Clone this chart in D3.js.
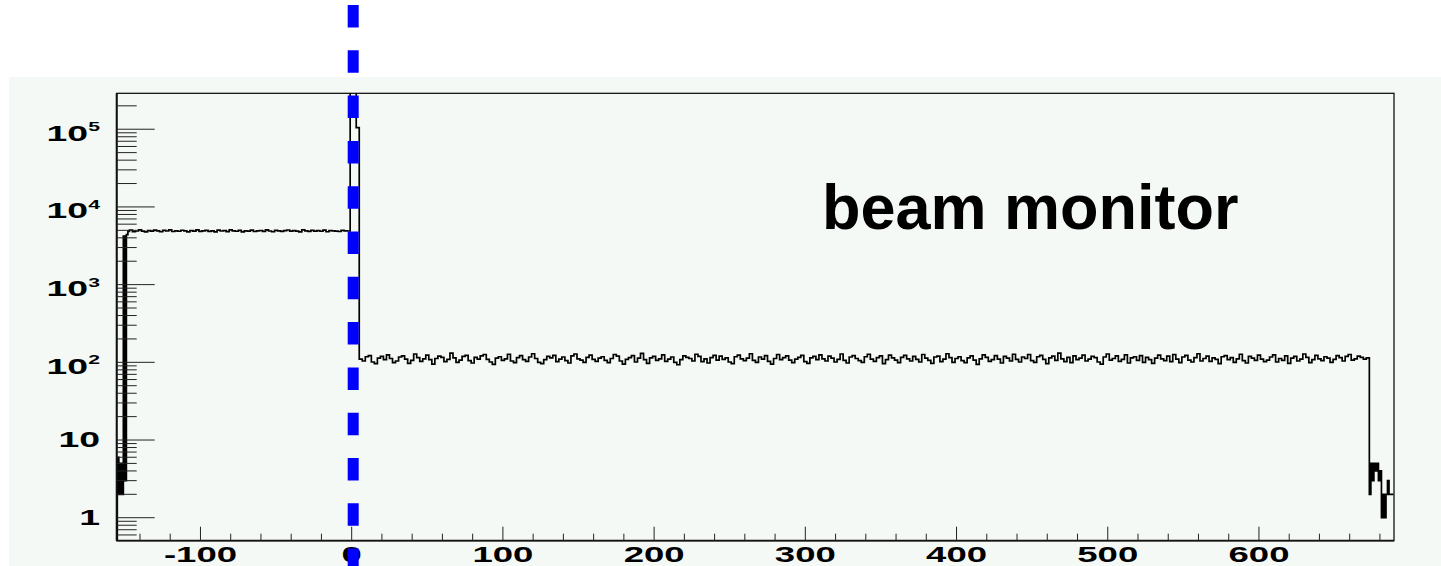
<!DOCTYPE html>
<html>
<head>
<meta charset="utf-8">
<script src="https://cdn.jsdelivr.net/npm/d3@7"></script>
<style>
  html, body { margin: 0; padding: 0; background: #ffffff; }
  svg { display: block; }
  text { font-family: "Liberation Sans", Arial, Helvetica, sans-serif; font-weight: bold; fill: #000; }
</style>
</head>
<body>
<svg id="chart" width="1441" height="566"></svg>
<script>
// ---- Histogram contents (counts per bin, time in ns) ----
// Leading edge, 1 ns bins starting at -155
const edgeStart = -155, edgeWidth = 1;
const edgeCounts = [6, 2, 5, 2, 4200, 3, 4400, 4850];

// Pre-trigger plateau, 2 ns bins starting at -147
const preStart = -147, preWidth = 2;
const preCounts = [
  5050,4820,4900,5080,4880,4760,4950,4870,5030,4910,4790,4980,4900,5070,4830,4920,4860,5010,4930,4780,
  4950,4890,5060,4840,4920,4990,4850,4930,4770,5020,4900,4960,4820,5080,4910,4860,4990,4780,4930,4880,
  5040,4830,4910,4970,4850,5060,4900,4790,5000,4920,4840,4940,5050,4870,4960,4890,4780,5070,4920,4850,
  4990,4880,4940,4860,5030,4790,4950,4910,4880,4830,4990,4930,4900
];

// Prompt peak, 2 ns bins starting at -1
const peakStart = -1, peakWidth = 2;
const peakCounts = [620000, 380000, 105000];

// Post-peak plateau, 2 ns bins starting at 5
const postStart = 5, postWidth = 2;
const postCounts = [
  110,104,118,122,101,96,113,119,108,125,112,99,104,117,121,110,97,106,128,115,
  103,111,124,108,95,112,120,116,102,109,131,114,100,107,119,123,105,98,116,110,
  121,126,109,101,94,113,118,106,111,127,104,99,115,122,108,103,117,129,112,100,
  96,108,119,114,123,102,110,117,105,98,121,128,111,107,100,116,124,109,103,113,
  118,106,99,112,126,120,104,95,109,115,122,101,113,130,108,97,114,119,106,111,
  125,103,110,117,100,93,108,121,116,112,104,127,119,102,111,98,115,123,107,120,
  109,114,101,96,118,124,111,105,113,129,106,100,117,110,122,103,95,112,126,108,
  115,121,107,99,110,116,123,102,97,114,119,108,125,111,104,120,113,101,109,128,
  106,98,117,122,112,105,100,118,127,110,103,115,121,96,108,124,114,107,99,116,
  123,111,104,119,109,101,126,113,106,97,117,120,102,110,129,115,100,112,118,105,
  99,114,121,107,94,111,125,116,103,108,122,110,98,119,113,104,127,109,101,117,
  112,126,105,100,118,123,109,96,114,120,106,131,111,102,116,99,121,108,113,124,
  104,110,119,115,101,95,117,128,107,112,121,103,109,125,98,114,118,106,122,100,
  116,108,97,113,124,111,105,120,102,126,110,99,117,123,107,101,115,129,104,112,
  120,103,114,109,96,118,122,108,115,100,111,127,105,98,119,113,106,124,110,102,
  107,117,125,101,112,106,121,97,113,119,104,110,128,116,99,108,123,111,105,118,
  113,100,109,122,115,104,119,126,107,111,120,116,110,114
];

// Trailing edge, 1 ns bins starting at 673
const tailStart = 673, tailWidth = 1;
const tailCounts = [2, 5, 3, 5, 4, 5, 3, 4, 1, 2, 1, 2, 3, 2, 2, 2];

// Axis ranges and ticks
const xDomain = [-155.4, 689.3];
const yDomain = [0.506, 2.9e5];
const xMajorTicks = [-100, 0, 100, 200, 300, 400, 500, 600];
const yMajorTicks = [1, 10, 100, 1000, 10000, 100000];
const yTickLabels = [
  { base: "1", exp: "" },
  { base: "10", exp: "" },
  { base: "10", exp: "2" },
  { base: "10", exp: "3" },
  { base: "10", exp: "4" },
  { base: "10", exp: "5" }
];
const markerTime = 1;               // vertical dashed marker position (ns)
const annotation = "beam monitor";

// ---- Layout ----
const W = 1441, H = 566;
const frame = { left: 116.7, right: 1394, top: 93.3, bottom: 540.7 };
const padBox = { left: 9, top: 77 };

const svg = d3.select("#chart");

const x = d3.scaleLinear().domain(xDomain).range([frame.left, frame.right]);
const y = d3.scaleLog().domain(yDomain).range([frame.bottom, frame.top]);

// Pad background
svg.append("rect")
  .attr("x", padBox.left).attr("y", padBox.top)
  .attr("width", W - padBox.left).attr("height", H - padBox.top)
  .attr("fill", "#f5f9f6");

// Collect bins from the segments
function segment(start, width, counts) {
  return counts.map((c, i) => ({ x0: start + i * width, x1: start + (i + 1) * width, c }));
}
const bins = [].concat(
  segment(edgeStart, edgeWidth, edgeCounts),
  segment(preStart, preWidth, preCounts),
  segment(peakStart, peakWidth, peakCounts),
  segment(postStart, postWidth, postCounts),
  segment(tailStart, tailWidth, tailCounts)
);

// Clip to plotting frame
svg.append("clipPath").attr("id", "frameClip")
  .append("rect")
  .attr("x", frame.left).attr("y", frame.top)
  .attr("width", frame.right - frame.left).attr("height", frame.bottom - frame.top);

// Histogram outline
const pts = [[x(bins[0].x0), frame.bottom]];
bins.forEach(b => {
  const yy = y(Math.max(b.c, yDomain[0]));
  pts.push([x(b.x0), yy]);
  pts.push([x(b.x1), yy]);
});
svg.append("path")
  .attr("clip-path", "url(#frameClip)")
  .attr("d", d3.line()(pts))
  .attr("fill", "none")
  .attr("stroke", "#000")
  .attr("stroke-width", 1.7)
  .attr("stroke-linejoin", "miter");

// Frame
svg.append("rect")
  .attr("x", frame.left).attr("y", frame.top)
  .attr("width", frame.right - frame.left).attr("height", frame.bottom - frame.top)
  .attr("fill", "none").attr("stroke", "#000").attr("stroke-width", 1.2);

// Axis lines (heavier)
svg.append("line")
  .attr("x1", frame.left).attr("x2", frame.left)
  .attr("y1", frame.top).attr("y2", frame.bottom)
  .attr("stroke", "#111").attr("stroke-width", 2);
svg.append("line")
  .attr("x1", frame.left).attr("x2", frame.right)
  .attr("y1", frame.bottom).attr("y2", frame.bottom)
  .attr("stroke", "#111").attr("stroke-width", 1.8);

// Y ticks (drawn inward)
const yMinor = [];
for (let e = -1; e <= 5; e++) {
  for (let m = 2; m <= 9; m++) {
    const v = m * Math.pow(10, e);
    if (v > yDomain[0] && v < yDomain[1]) yMinor.push(v);
  }
}
svg.append("g").selectAll("line").data(yMinor).join("line")
  .attr("x1", frame.left).attr("x2", frame.left + 20)
  .attr("y1", d => y(d)).attr("y2", d => y(d))
  .attr("stroke", "#222").attr("stroke-width", 1);
svg.append("g").selectAll("line").data(yMajorTicks).join("line")
  .attr("x1", frame.left).attr("x2", frame.left + 38)
  .attr("y1", d => y(d)).attr("y2", d => y(d))
  .attr("stroke", "#222").attr("stroke-width", 1);

// X ticks (drawn upward)
const xMinor = d3.range(-140, 689, 20).filter(v => v % 100 !== 0);
svg.append("g").selectAll("line").data(xMinor).join("line")
  .attr("x1", d => x(d)).attr("x2", d => x(d))
  .attr("y1", frame.bottom).attr("y2", frame.bottom - 7)
  .attr("stroke", "#222").attr("stroke-width", 1);
svg.append("g").selectAll("line").data(xMajorTicks).join("line")
  .attr("x1", d => x(d)).attr("x2", d => x(d))
  .attr("y1", frame.bottom).attr("y2", frame.bottom - 14)
  .attr("stroke", "#222").attr("stroke-width", 1);

// Tick labels (wide, bold)
const stretch = 1.7;
svg.append("g").selectAll("g").data(xMajorTicks).join("g")
  .attr("transform", d => `translate(${x(d)},561.5) scale(${stretch},1)`)
  .append("text")
  .attr("text-anchor", "middle")
  .attr("font-size", 21.5)
  .text(d => String(d));

const yl = svg.append("g").selectAll("g").data(yMajorTicks).join("g")
  .attr("transform", (d, i) => {
    const off = yTickLabels[i].exp ? 11.5 : 7.4;
    return `translate(100,${y(d) + off}) scale(${stretch},1)`;
  })
  .append("text")
  .attr("text-anchor", "end")
  .attr("font-size", 22);
yl.append("tspan").text((d, i) => yTickLabels[i].base);
yl.filter((d, i) => yTickLabels[i].exp !== "")
  .append("tspan")
  .attr("dy", -9.5)
  .attr("font-size", 12.5)
  .text(d => yTickLabels[yMajorTicks.indexOf(d)].exp);

// Annotation
svg.append("text")
  .attr("x", 822).attr("y", 229)
  .attr("font-size", 63)
  .text(annotation);

// Vertical dashed marker
svg.append("line")
  .attr("x1", x(markerTime)).attr("x2", x(markerTime))
  .attr("y1", 5).attr("y2", H)
  .attr("stroke", "#0000ff")
  .attr("stroke-width", 11)
  .attr("stroke-dasharray", "22.5 22.8");
</script>
</body>
</html>
